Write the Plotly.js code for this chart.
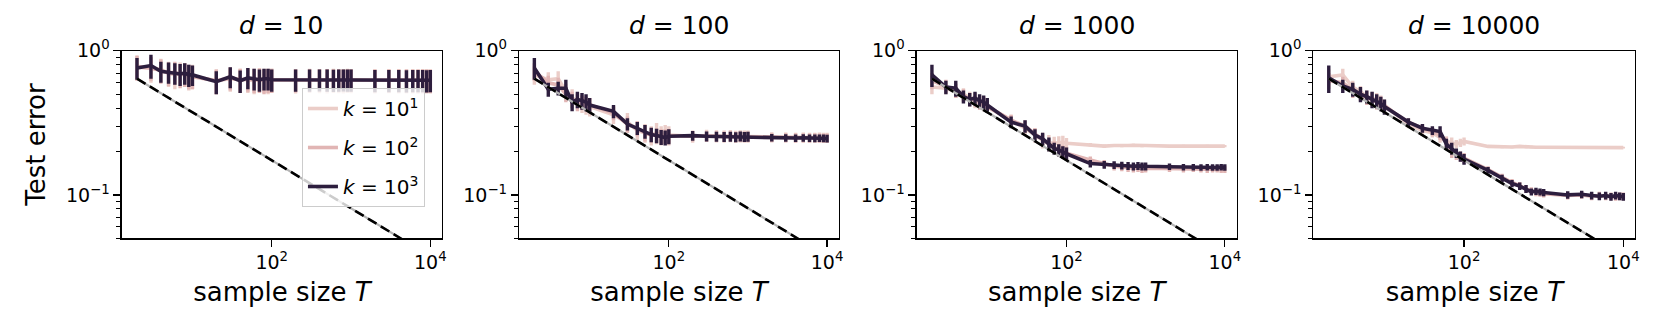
<!DOCTYPE html>
<html>
<head>
<meta charset="utf-8">
<script src="https://cdn.plot.ly/plotly-3.0.1.min.js"></script>
<style>html,body{margin:0;padding:0;background:#fff}</style>
</head>
<body>
<div id="chart" style="width:1660px;height:334px"></div>
<script>
// sample sizes (same grid in every panel)
var T = [2,3,4,5,6,7,8,9,10, 20,30,40,50,60,70,80,90,100,
         200,300,400,500,600,700,800,900,1000,
         2000,3000,4000,5000,6000,7000,8000,9000,10000];

// reference slope line (endpoints)
var refT = [2, 10000];
var refY = [0.64, 0.0375];

// d = 10
var d10_k10 = [0.78,0.75,0.74,0.70,0.68,0.70,0.69,0.66,0.67, 0.62,0.64,0.63,0.63,0.62,0.64,0.63,0.62,0.63,
  0.625,0.63,0.628,0.625,0.63,0.627,0.625,0.63,0.628, 0.625,0.627,0.626,0.625,0.626,0.624,0.626,0.625,0.625];
var d10_k10_err = [0.15,0.15,0.14,0.14,0.14,0.13,0.13,0.13,0.13, 0.12,0.12,0.12,0.12,0.12,0.12,0.12,0.12,0.12,
  0.12,0.12,0.12,0.12,0.12,0.12,0.12,0.12,0.12, 0.12,0.12,0.12,0.12,0.12,0.12,0.12,0.12,0.12];
var d10_k100 = [0.77,0.76,0.73,0.70,0.71,0.68,0.69,0.67,0.66, 0.62,0.65,0.63,0.64,0.63,0.63,0.62,0.63,0.63,
  0.63,0.628,0.63,0.632,0.628,0.63,0.63,0.628,0.63, 0.626,0.625,0.626,0.625,0.624,0.625,0.626,0.625,0.624];
var d10_k100_err = [0.15,0.14,0.14,0.13,0.13,0.13,0.13,0.13,0.12, 0.12,0.12,0.12,0.12,0.12,0.12,0.12,0.12,0.12,
  0.115,0.115,0.115,0.115,0.115,0.115,0.115,0.115,0.115, 0.115,0.115,0.115,0.115,0.115,0.115,0.115,0.115,0.115];
var d10_k1000 = [0.76,0.79,0.72,0.71,0.70,0.69,0.70,0.68,0.68, 0.61,0.66,0.62,0.65,0.64,0.63,0.64,0.64,0.63,
  0.63,0.63,0.632,0.63,0.628,0.63,0.632,0.63,0.63, 0.625,0.626,0.625,0.624,0.625,0.626,0.625,0.624,0.625];
var d10_k1000_err = [0.13,0.15,0.12,0.12,0.12,0.12,0.12,0.12,0.11, 0.11,0.11,0.11,0.11,0.11,0.11,0.11,0.11,0.11,
  0.11,0.11,0.11,0.11,0.11,0.11,0.11,0.11,0.11, 0.11,0.11,0.11,0.11,0.11,0.11,0.11,0.11,0.11];

// d = 100
var d100_k10 = [0.68,0.63,0.64,0.52,0.47,0.45,0.43,0.42,0.41, 0.36,0.32,0.28,0.27,0.26,0.27,0.26,0.265,0.26,
  0.255,0.258,0.256,0.255,0.257,0.254,0.256,0.255,0.255, 0.252,0.251,0.25,0.251,0.25,0.25,0.251,0.25,0.25];
var d100_k10_err = [0.10,0.08,0.08,0.07,0.07,0.06,0.06,0.06,0.06, 0.05,0.05,0.045,0.04,0.04,0.045,0.04,0.04,0.04,
  0.025,0.025,0.025,0.025,0.025,0.025,0.025,0.025,0.025, 0.02,0.02,0.02,0.02,0.02,0.02,0.02,0.02,0.02];
var d100_k100 = [0.72,0.60,0.58,0.50,0.46,0.44,0.44,0.43,0.42, 0.37,0.31,0.29,0.27,0.26,0.26,0.255,0.255,0.257,
  0.256,0.255,0.255,0.254,0.255,0.253,0.254,0.254,0.253, 0.25,0.25,0.249,0.249,0.248,0.249,0.248,0.248,0.248];
var d100_k100_err = [0.10,0.07,0.07,0.06,0.06,0.06,0.05,0.05,0.05, 0.04,0.04,0.035,0.035,0.03,0.03,0.03,0.03,0.03,
  0.02,0.02,0.02,0.02,0.02,0.02,0.02,0.02,0.02, 0.018,0.018,0.018,0.018,0.018,0.018,0.018,0.018,0.018];
var d100_k1000 = [0.76,0.54,0.55,0.55,0.44,0.46,0.45,0.44,0.42, 0.38,0.31,0.29,0.275,0.262,0.258,0.252,0.25,0.255,
  0.258,0.255,0.254,0.253,0.254,0.252,0.255,0.253,0.254, 0.25,0.249,0.248,0.249,0.248,0.247,0.248,0.247,0.246];
var d100_k1000_err = [0.13,0.06,0.06,0.08,0.06,0.06,0.06,0.06,0.05, 0.04,0.03,0.03,0.03,0.03,0.03,0.03,0.03,0.03,
  0.02,0.02,0.02,0.02,0.02,0.02,0.02,0.02,0.02, 0.015,0.015,0.015,0.015,0.015,0.015,0.015,0.015,0.015];

// d = 1000
var d1000_k10 = [0.56,0.55,0.52,0.50,0.47,0.45,0.43,0.43,0.41, 0.33,0.29,0.26,0.24,0.23,0.228,0.23,0.232,0.228,
  0.223,0.218,0.22,0.219,0.22,0.221,0.22,0.219,0.22, 0.218,0.219,0.218,0.218,0.219,0.218,0.218,0.218,0.218];
var d1000_k10_err = [0.06,0.05,0.05,0.05,0.05,0.05,0.04,0.04,0.04, 0.03,0.03,0.03,0.03,0.03,0.025,0.025,0.025,0.02,
  0.006,0.006,0.005,0.005,0.005,0.005,0.005,0.005,0.005, 0.004,0.004,0.004,0.004,0.004,0.004,0.004,0.004,0.004];
var d1000_k100 = [0.62,0.57,0.53,0.49,0.46,0.46,0.44,0.43,0.41, 0.33,0.30,0.265,0.24,0.225,0.215,0.205,0.20,0.195,
  0.175,0.165,0.158,0.156,0.154,0.153,0.154,0.152,0.153, 0.152,0.151,0.152,0.151,0.15,0.151,0.151,0.15,0.15];
var d1000_k100_err = [0.08,0.06,0.06,0.05,0.05,0.05,0.05,0.05,0.04, 0.03,0.03,0.025,0.025,0.02,0.02,0.02,0.02,0.02,
  0.01,0.01,0.01,0.01,0.01,0.01,0.01,0.01,0.01, 0.008,0.008,0.008,0.008,0.008,0.008,0.008,0.008,0.008];
var d1000_k1000 = [0.68,0.56,0.55,0.48,0.46,0.47,0.45,0.44,0.42, 0.32,0.30,0.26,0.245,0.225,0.21,0.205,0.198,0.193,
  0.165,0.162,0.161,0.16,0.159,0.158,0.159,0.158,0.158, 0.157,0.156,0.156,0.155,0.156,0.155,0.155,0.156,0.155];
var d1000_k1000_err = [0.12,0.06,0.07,0.05,0.05,0.05,0.05,0.05,0.05, 0.03,0.03,0.025,0.025,0.025,0.02,0.02,0.02,0.02,
  0.01,0.01,0.01,0.01,0.01,0.01,0.01,0.01,0.01, 0.008,0.008,0.008,0.008,0.008,0.008,0.008,0.008,0.008];

// d = 10000
var d10000_k10 = [0.66,0.68,0.56,0.52,0.48,0.47,0.46,0.44,0.42, 0.31,0.28,0.27,0.25,0.235,0.23,0.225,0.23,0.235,
  0.217,0.215,0.215,0.217,0.215,0.215,0.214,0.214,0.214, 0.213,0.213,0.213,0.213,0.213,0.213,0.213,0.213,0.213];
var d10000_k10_err = [0.08,0.07,0.06,0.05,0.05,0.05,0.05,0.05,0.04, 0.02,0.02,0.02,0.02,0.02,0.02,0.015,0.015,0.015,
  0.004,0.004,0.004,0.004,0.004,0.004,0.004,0.004,0.004, 0.003,0.003,0.003,0.003,0.003,0.003,0.003,0.003,0.003];
var d10000_k100 = [0.62,0.60,0.53,0.50,0.47,0.46,0.44,0.43,0.41, 0.32,0.29,0.275,0.26,0.23,0.20,0.19,0.185,0.18,
  0.15,0.132,0.122,0.116,0.11,0.107,0.104,0.103,0.102, 0.099,0.10,0.098,0.099,0.098,0.098,0.097,0.098,0.098];
var d10000_k100_err = [0.08,0.06,0.06,0.05,0.05,0.05,0.05,0.05,0.04, 0.02,0.02,0.02,0.02,0.02,0.02,0.015,0.015,0.015,
  0.008,0.008,0.007,0.007,0.007,0.006,0.006,0.006,0.006, 0.006,0.006,0.006,0.006,0.006,0.006,0.006,0.006,0.006];
var d10000_k1000 = [0.65,0.57,0.54,0.50,0.48,0.46,0.45,0.43,0.41, 0.32,0.29,0.28,0.275,0.225,0.21,0.195,0.185,0.177,
  0.148,0.13,0.12,0.115,0.11,0.105,0.106,0.105,0.104, 0.10,0.101,0.099,0.098,0.099,0.097,0.099,0.098,0.097];
var d10000_k1000_err = [0.14,0.06,0.06,0.06,0.05,0.06,0.05,0.05,0.05, 0.02,0.02,0.02,0.025,0.02,0.02,0.015,0.015,0.015,
  0.008,0.008,0.007,0.007,0.007,0.006,0.006,0.006,0.006, 0.006,0.006,0.006,0.006,0.006,0.006,0.006,0.006,0.006];

var panelTitles = ["<i>d</i> = 10", "<i>d</i> = 100", "<i>d</i> = 1000", "<i>d</i> = 10000"];
var kNames = ["<i>k</i> = 10<sup>1</sup>", "<i>k</i> = 10<sup>2</sup>", "<i>k</i> = 10<sup>3</sup>"];
var kColors = ["#ebcdc8", "#e1b5b4", "#2d1e3e"];

var panels = [
  [[d10_k10, d10_k10_err], [d10_k100, d10_k100_err], [d10_k1000, d10_k1000_err]],
  [[d100_k10, d100_k10_err], [d100_k100, d100_k100_err], [d100_k1000, d100_k1000_err]],
  [[d1000_k10, d1000_k10_err], [d1000_k100, d1000_k100_err], [d1000_k1000, d1000_k1000_err]],
  [[d10000_k10, d10000_k10_err], [d10000_k100, d10000_k100_err], [d10000_k1000, d10000_k1000_err]]
];

var xDomains = [[0.0733, 0.2664], [0.3127, 0.5054], [0.5522, 0.7450], [0.7912, 0.9851]];
var yDomain = [0.2865, 0.848];
var font = "DejaVu Sans";

var data = [];
var layout = {
  width: 1660, height: 334,
  margin: {l: 0, r: 0, t: 0, b: 0},
  paper_bgcolor: "white", plot_bgcolor: "white",
  font: {family: font, color: "black"},
  showlegend: true,
  legend: {
    x: 0.1819, xanchor: "left", y: 0.7365, yanchor: "top",
    bgcolor: "rgba(255,255,255,0.8)", bordercolor: "#cccccc", borderwidth: 1,
    font: {family: font, size: 20, color: "black"},
    itemwidth: 30
  },
  annotations: []
};

var minorY = [0.05,0.06,0.07,0.08,0.09,0.2,0.3,0.4,0.5,0.6,0.7,0.8,0.9];

panels.forEach(function(panel, p) {
  var xa = "x" + (p === 0 ? "" : p + 1);
  var ya = "y" + (p === 0 ? "" : p + 1);

  panel.forEach(function(series, k) {
    data.push({
      x: T, y: series[0], xaxis: xa, yaxis: ya,
      type: "scatter", mode: "lines",
      name: kNames[k], legendgroup: "k" + k, showlegend: p === 0,
      line: {color: kColors[k], width: 3.6},
      error_y: {type: "data", array: series[1], visible: true,
                color: kColors[k], thickness: 3.4, width: 0}
    });
  });

  // reference line: gray under black dashes
  data.push({x: refT, y: refY, xaxis: xa, yaxis: ya, mode: "lines", showlegend: false,
             line: {color: "#b4b4b4", width: 2.2}, hoverinfo: "skip"});
  data.push({x: refT, y: refY, xaxis: xa, yaxis: ya, mode: "lines", showlegend: false,
             line: {color: "black", width: 2.6, dash: "10px,5px"}, hoverinfo: "skip"});

  var xKey = "xaxis" + (p === 0 ? "" : p + 1);
  var yKey = "yaxis" + (p === 0 ? "" : p + 1);

  layout[xKey] = {
    domain: xDomains[p], anchor: ya, type: "log",
    range: [0.108, 4.15],
    tickvals: [100, 10000], ticktext: ["10<sup>2</sup>", "10<sup>4</sup>"],
    ticks: "outside", ticklen: 7, tickwidth: 1.2, tickcolor: "black",
    tickfont: {family: font, size: 19, color: "black"},
    showline: true, mirror: true, linecolor: "black", linewidth: 1.2,
    showgrid: false, zeroline: false, automargin: false,
    title: {text: "sample size <i>T</i>", font: {family: font, size: 26, color: "black"}, standoff: 10}
  };
  layout[yKey] = {
    domain: yDomain, anchor: xa, type: "log",
    range: [Math.log10(0.05), 0],
    tickvals: [0.1, 1], ticktext: ["10<sup>\u22121</sup>", "10<sup>0</sup>"],
    ticks: "outside", ticklen: 7, tickwidth: 1.2, tickcolor: "black",
    tickfont: {family: font, size: 19, color: "black"},
    minor: {tickvals: minorY, ticks: "outside", ticklen: 4, tickwidth: 1, tickcolor: "black", showgrid: false},
    showline: true, mirror: true, linecolor: "black", linewidth: 1.2,
    showgrid: false, zeroline: false, automargin: false
  };
  if (p === 0) {
    layout[yKey].title = {text: "Test error", font: {family: font, size: 26, color: "black"}, standoff: 12};
  }

  layout.annotations.push({
    text: panelTitles[p], xref: "paper", yref: "paper",
    x: (xDomains[p][0] + xDomains[p][1]) / 2, y: 0.924,
    xanchor: "center", yanchor: "middle", showarrow: false,
    font: {family: font, size: 25, color: "black"}
  });
});

Plotly.newPlot("chart", data, layout, {displayModeBar: false, staticPlot: true});
</script>
</body>
</html>
